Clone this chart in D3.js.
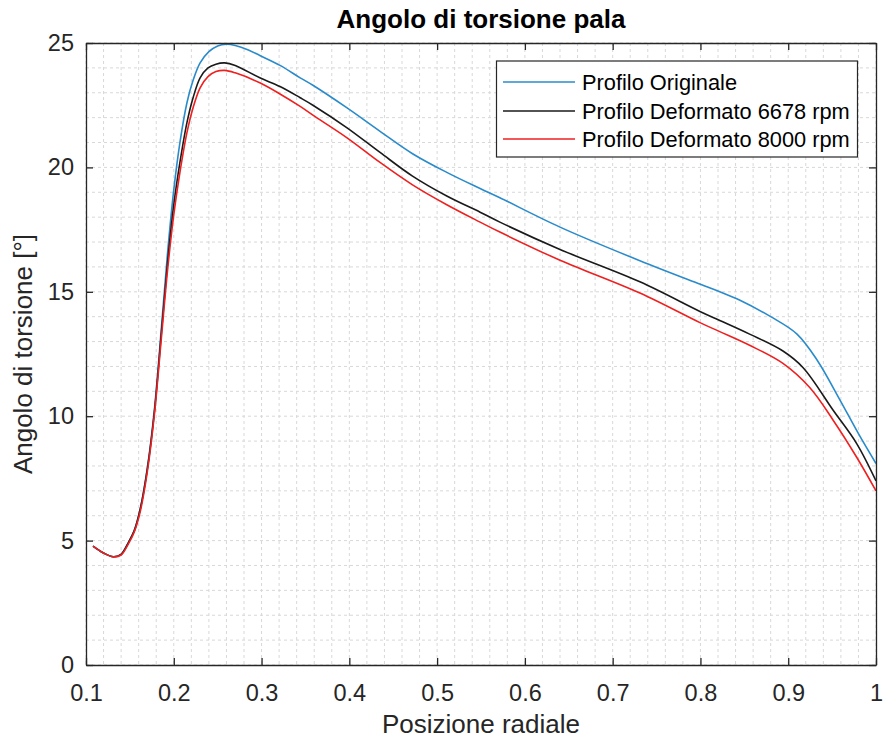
<!DOCTYPE html>
<html><head><meta charset="utf-8">
<script src="https://cdn.jsdelivr.net/npm/d3@7/dist/d3.min.js"></script>
<style>
html,body{margin:0;padding:0;background:#fff;}
svg{display:block;font-family:"Liberation Sans",Arial,Helvetica,sans-serif;}
</style></head>
<body>
<svg id="chart" width="884" height="746"></svg>
<script>
// ---- data ----
const xOriginale = [0.108,0.12,0.131,0.14,0.148,0.155,0.162,0.17,0.178,0.186,0.193,0.2,0.207,0.215,0.222,0.23,0.24,0.25,0.26,0.27,0.285,0.298,0.321,0.344,0.3585,0.397,0.435,0.472,0.511,0.549,0.5715,0.64,0.731,0.8,0.822,0.845,0.88,0.91,0.933,0.959,0.98,1.0];
const yOriginale = [4.78,4.5,4.35,4.45,4.9,5.4,6.3,7.95,10.3,13.6,16.6,19.1,21.0,22.6,23.5,24.2,24.65,24.88,24.95,24.9,24.72,24.5,24.1,23.6,23.3,22.4,21.45,20.55,19.8,19.15,18.78,17.6,16.25,15.3,15.0,14.66,14.0,13.3,12.25,10.65,9.3,8.1];

const x6678 = [0.108,0.12,0.131,0.14,0.148,0.155,0.162,0.17,0.178,0.186,0.193,0.2,0.207,0.215,0.222,0.23,0.239,0.248,0.258,0.27,0.298,0.321,0.344,0.3585,0.397,0.435,0.472,0.511,0.549,0.5715,0.64,0.731,0.8,0.822,0.856,0.894,0.917,0.951,0.978,1.0];
const y6678 = [4.78,4.5,4.35,4.45,4.9,5.4,6.3,7.9,10.2,13.4,16.2,18.5,20.2,21.8,22.8,23.6,24.0,24.15,24.2,24.1,23.6,23.25,22.8,22.5,21.6,20.6,19.65,18.85,18.2,17.8,16.7,15.4,14.2,13.85,13.3,12.62,11.95,10.25,8.9,7.4];

const x8000 = [0.108,0.12,0.131,0.14,0.148,0.155,0.162,0.17,0.178,0.186,0.193,0.2,0.207,0.215,0.222,0.23,0.239,0.248,0.258,0.27,0.298,0.321,0.344,0.3585,0.397,0.435,0.472,0.511,0.549,0.5715,0.64,0.731,0.8,0.822,0.856,0.894,0.9245,0.951,0.978,1.0];
const y8000 = [4.78,4.5,4.35,4.42,4.85,5.35,6.2,7.8,10.1,13.2,15.9,18.1,19.8,21.4,22.4,23.2,23.65,23.85,23.9,23.8,23.4,22.95,22.45,22.1,21.2,20.2,19.3,18.5,17.8,17.4,16.27,14.95,13.75,13.4,12.85,12.12,11.15,9.85,8.35,7.0];

const seriesNames = ["Profilo Originale","Profilo Deformato 6678 rpm","Profilo Deformato 8000 rpm"];
const seriesColors = ["#2a8bcb","#1a1a1a","#ee2020"];
const xTicks = [0.1,0.2,0.3,0.4,0.5,0.6,0.7,0.8,0.9,1];
const xTickLabels = ["0.1","0.2","0.3","0.4","0.5","0.6","0.7","0.8","0.9","1"];
const yTicks = [0,5,10,15,20,25];
const titleText = "Angolo di torsione pala";
const xLabelText = "Posizione radiale";
const yLabelText = "Angolo di torsione [°]";

// ---- layout ----
const L = 86, R = 876, T = 43, B = 665;
const svg = d3.select("#chart");
const x = d3.scaleLinear().domain([0.1,1]).range([L,R]);
const y = d3.scaleLinear().domain([0,25]).range([B,T]);
const axisColor = "#262626";

// grid
const gridG = svg.append("g");
const xMinor = d3.range(0.1, 1.0001, 0.02);
const yMinor = d3.range(0, 25.0001, 1);
gridG.selectAll("line.gx").data(xMinor).join("line")
  .attr("x1", d=>x(d)).attr("x2", d=>x(d)).attr("y1", T).attr("y2", B)
  .attr("stroke", "#d8d8d8").attr("stroke-width", 1).attr("stroke-dasharray", "3,3");
gridG.selectAll("line.gy").data(yMinor).join("line")
  .attr("y1", d=>y(d)).attr("y2", d=>y(d)).attr("x1", L).attr("x2", R)
  .attr("stroke", "#d8d8d8").attr("stroke-width", 1).attr("stroke-dasharray", "3,3");

// series
const series = [
  {xs:xOriginale, ys:yOriginale},
  {xs:x6678, ys:y6678},
  {xs:x8000, ys:y8000}
];
const line = d3.line().x(d=>x(d[0])).y(d=>y(d[1])).curve(d3.curveCatmullRom.alpha(0.5));
series.forEach((s,i)=>{
  const pts = s.xs.map((v,j)=>[v,s.ys[j]]);
  svg.append("path").attr("d", line(pts)).attr("fill","none")
    .attr("stroke", seriesColors[i]).attr("stroke-width", 1.6).attr("stroke-linejoin","round");
});

// axes (box with inward ticks)
const tickLen = 7;
const xAxisB = d3.axisBottom(x).tickValues(xTicks).tickFormat((d,i)=>xTickLabels[i]).tickSizeInner(-tickLen).tickSizeOuter(0).tickPadding(tickLen+12);
const xAxisT = d3.axisTop(x).tickValues(xTicks).tickFormat("").tickSizeInner(-tickLen).tickSizeOuter(0);
const yAxisL = d3.axisLeft(y).tickValues(yTicks).tickSizeInner(-tickLen).tickSizeOuter(0).tickPadding(tickLen+5);
const yAxisR = d3.axisRight(y).tickValues(yTicks).tickFormat("").tickSizeInner(-tickLen).tickSizeOuter(0);
function styleAxis(g){
  g.select(".domain").attr("stroke", axisColor).attr("stroke-width", 1.3);
  g.selectAll(".tick line").attr("stroke", axisColor).attr("stroke-width", 1.3);
  g.selectAll(".tick text").attr("fill", axisColor).attr("font-size", 23.5)
    .attr("font-family", '"Liberation Sans",Arial,sans-serif');
}
svg.append("g").attr("transform",`translate(0,${B})`).call(xAxisB).call(styleAxis);
svg.append("g").attr("transform",`translate(0,${T})`).call(xAxisT).call(styleAxis);
svg.append("g").attr("transform",`translate(${L},0)`).call(yAxisL).call(styleAxis);
svg.append("g").attr("transform",`translate(${R},0)`).call(yAxisR).call(styleAxis);

// title & labels
svg.append("text").attr("x", (L+R)/2).attr("y", 28).attr("text-anchor","middle")
  .attr("font-size", 26).attr("font-weight","bold").attr("fill","#000").text(titleText);
svg.append("text").attr("x", (L+R)/2).attr("y", 733).attr("text-anchor","middle")
  .attr("font-size", 26).attr("fill", axisColor).text(xLabelText);
svg.append("text").attr("transform", `translate(32,${(T+B)/2}) rotate(-90)`).attr("text-anchor","middle")
  .attr("font-size", 26).attr("fill", axisColor).text(yLabelText);

// legend
const lg = svg.append("g");
lg.append("rect").attr("x", 496.5).attr("y", 61).attr("width", 361).attr("height", 96)
  .attr("fill","#fff").attr("stroke", axisColor).attr("stroke-width", 1.2);
const rowY = [82, 111, 139];
seriesNames.forEach((n,i)=>{
  lg.append("line").attr("x1", 503).attr("x2", 575).attr("y1", rowY[i]).attr("y2", rowY[i])
    .attr("stroke", seriesColors[i]).attr("stroke-width", 1.6);
  lg.append("text").attr("x", 582).attr("y", rowY[i]).attr("dy","0.36em")
    .attr("font-size", 21.8).attr("fill","#000").text(n);
});
</script>
</body></html>
